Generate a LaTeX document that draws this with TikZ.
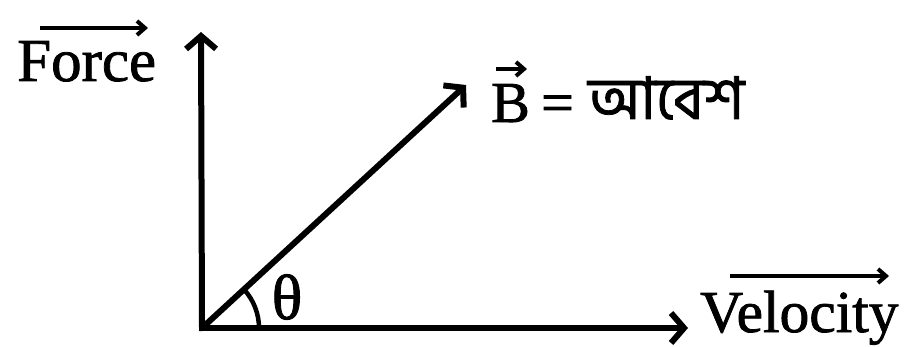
\documentclass[tikz,border=0pt]{standalone}
\usepackage{fontspec}
\setmainfont{Liberation Serif}[FakeBold=1.3]
\newfontfamily\bnfont[Script=Bengali,FakeBold=1.3]{Hind Siliguri}
\usetikzlibrary{arrows.meta}
\begin{document}
\begin{tikzpicture}[x=1pt,y=-1pt,
  vec/.style={line width=6pt, -{Straight Barb[length=13pt,width=30pt,line width=6pt]}},
  over/.style={line width=4pt, -{Straight Barb[length=8pt,width=14pt,line width=4pt]}},
  lbl/.style={inner sep=0pt, font=\fontsize{58}{60}\selectfont}]
\useasboundingbox (0,0) rectangle (910,347);
\coordinate (O) at (202,328);
\coordinate (F) at (201,32);
\coordinate (V) at (688,328);
\coordinate (B) at (466,85);
\draw[vec, line cap=rect] (O) -- (F);
\draw[vec, line cap=rect] (O) -- (V);
\draw[vec] (O) -- (B);
\draw[line width=4.5pt] (O) ++(57,0) arc[start angle=0, end angle=-42.6, radius=57];
\node[lbl, anchor=base west, font=\fontsize{61}{63}\selectfont] (force) at (17,81) {Force};
\node[lbl, anchor=base west, font=\fontsize{59.5}{61}\selectfont] (vel) at (700,332) {Velocity};
\node[lbl, anchor=base west] (bvec) at (491,122) {B};
\node[lbl, anchor=base west] (eq) at (541,122) {=};
\node[inner sep=0pt, anchor=base west, font=\bnfont\fontsize{59}{61}\selectfont] (bn) at (588,119) {আবেশ};
\node[inner sep=0pt, font=\fontsize{64}{66}\selectfont] (theta) at (287,297) {θ};
\coordinate (fa1) at (40,28);  \coordinate (fa2) at (148,28);
\coordinate (va1) at (730,276); \coordinate (va2) at (889,276);
\coordinate (ba1) at (496,69); \coordinate (ba2) at (527,69);
\draw[over] (fa1) -- (fa2);
\draw[over] (va1) -- (va2);
\draw[over] (ba1) -- (ba2);
\end{tikzpicture}
\end{document}
